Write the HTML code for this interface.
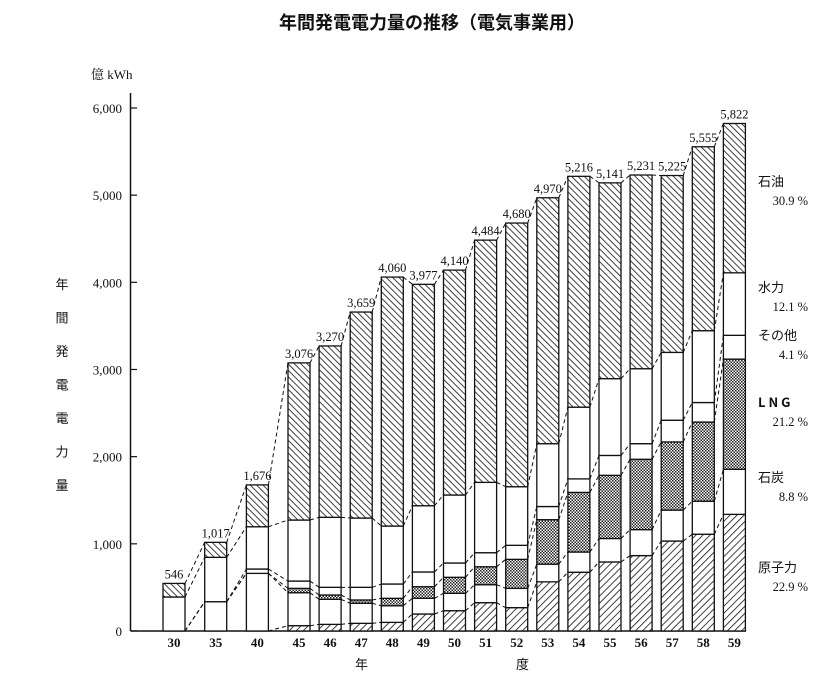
<!DOCTYPE html>
<html><head><meta charset="utf-8">
<style>
html,body{margin:0;padding:0;background:#fff;}
svg{display:block;font-family:"Liberation Serif","Noto Serif CJK SC",serif;}
.t{fill:#111;}
</style></head>
<body>
<svg id="c" width="835" height="697" viewBox="0 0 835 697" xmlns="http://www.w3.org/2000/svg">
<defs>
<pattern id="pOil" width="4.5" height="4.5" patternUnits="userSpaceOnUse" patternTransform="rotate(-45)">
<rect width="4.5" height="4.5" fill="#fff"/><line x1="0" y1="0" x2="0" y2="4.5" stroke="#111" stroke-width="1.6"/></pattern>
<pattern id="pNuc" width="5" height="5" patternUnits="userSpaceOnUse" patternTransform="rotate(45)">
<rect width="5" height="5" fill="#fff"/><line x1="0" y1="0" x2="0" y2="5" stroke="#111" stroke-width="1.6"/></pattern>
<pattern id="pLng" width="3" height="3" patternUnits="userSpaceOnUse">
<rect width="3" height="3" fill="#fff"/><rect width="1.5" height="1.5" fill="#222"/><rect x="1.5" y="1.5" width="1.5" height="1.5" fill="#222"/></pattern>
</defs>
<text x="432" y="29" text-anchor="middle" font-size="18" font-weight="bold" font-family="'Noto Sans CJK JP',sans-serif" class="t">年間発電電力量の推移（電気事業用）</text>
<text x="91" y="79" font-size="13" class="t">億 kWh</text>
<g id="ylab" font-size="13" font-family="'Noto Sans CJK JP',sans-serif"></g>
<g id="axes"></g>
<g id="lines"></g>
<g id="bars"></g>
<g id="labels"></g>
<g id="legend" font-family="'Noto Sans CJK JP',sans-serif"></g>
<text x="355" y="669" font-size="13" font-family="'Noto Sans CJK JP',sans-serif" class="t">年</text>
<text x="516" y="669" font-size="13" font-family="'Noto Sans CJK JP',sans-serif" class="t">度</text>
</svg>
<script>
const categories = ["30","35","40","45","46","47","48","49","50","51","52","53","54","55","56","57","58","59"];
const totals = [546,1017,1676,3076,3270,3659,4060,3977,4140,4484,4680,4970,5216,5141,5231,5225,5555,5822];
const nuclear = [0,0,0,61,76,88,99,195,233,325,268,564,674,792,865,1032,1110,1338];
const coal = [0,336,661,378,287,230,191,180,199,206,221,203,232,269,298,355,379,517];
const lng = [0,0,0,50,50,38,85,133,184,206,333,510,684,725,807,782,908,1264];
const other = [0,0,50,84,88,145,164,169,164,161,161,151,155,228,179,249,224,273];
const hydro = [390,509,485,700,803,795,665,760,780,807,672,721,823,881,860,778,824,717];
const yTicks = [0,1000,2000,3000,4000,5000,6000];
const yTickLabels = ["0","1,000","2,000","3,000","4,000","5,000","6,000"];
const legendNames = ["石油","水力","その他","L N G","石炭","原子力"];
const legendPcts = ["30.9 %","12.1 %","4.1 %","21.2 %","8.8 %","22.9 %"];

const NS="http://www.w3.org/2000/svg";
function el(tag,attrs,parent,txt){const e=document.createElementNS(NS,tag);for(const k in attrs)e.setAttribute(k,attrs[k]);if(txt!==undefined)e.textContent=txt;parent.appendChild(e);return e;}
const y=v=>631-v*0.08717;
const xc=i=>i<3?174+41.7*i:299+31.1*(i-3);
const BW=22;
const axes=document.getElementById('axes');
const a1=el('line',{x1:130.5,y1:93,x2:130.5,y2:631,stroke:'#111','stroke-width':1.5},axes);

const a2=el('line',{x1:130.5,y1:631,x2:746,y2:631,stroke:'#111','stroke-width':1.5},axes);

yTicks.forEach((v,i)=>{
  const t=el('line',{x1:130.5,y1:y(v),x2:137,y2:y(v),stroke:'#111','stroke-width':1.2},axes);
  
  const l=el('text',{x:122,y:y(v)+5,'text-anchor':'end','font-size':13,class:'t'},axes,yTickLabels[i]);
  
});
const ylab=document.getElementById('ylab');
"年間発電電力量".split('').forEach((ch,i)=>{
  const t=el('text',{x:62,y:289+i*33.5,'text-anchor':'middle',class:'t'},ylab,ch);
  
});
const series=[[nuclear,'url(#pNuc)','nuclear'],[coal,'#fff','coal'],[lng,'url(#pLng)','lng'],[other,'#fff','other'],[hydro,'#fff','hydro']];
const bars=document.getElementById('bars'),labels=document.getElementById('labels'),lines=document.getElementById('lines');
const cums=categories.map((c,i)=>{let s=0;const arr=[];series.forEach(se=>{s+=se[0][i];arr.push(s);});arr.push(totals[i]);return arr;});
categories.forEach((c,i)=>{
  const x0=xc(i)-BW/2;let base=0;
  series.forEach(se=>{
    const v=se[0][i];if(v<=0)return;
    const r=el('rect',{x:x0,y:y(base+v),width:BW,height:y(base)-y(base+v),fill:se[1],stroke:'#111','stroke-width':1.3},bars);
    
    base+=v;
  });
  const o=el('rect',{x:x0,y:y(totals[i]),width:BW,height:y(base)-y(totals[i]),fill:'url(#pOil)',stroke:'#111','stroke-width':1.3},bars);
  
  const tl=el('text',{x:xc(i),y:y(totals[i])-5,'text-anchor':'middle','font-size':12.5,class:'t'},labels,totals[i].toLocaleString('en-US'));
  
  const xl=el('text',{x:xc(i),y:647,'text-anchor':'middle','font-size':13,'font-weight':'bold',class:'t'},labels,c);
  
  if(i<categories.length-1){
    cums[i].forEach((v,k)=>{
      const w=cums[i+1][k];
      const ln=el('line',{x1:x0+BW,y1:y(v),x2:xc(i+1)-BW/2,y2:y(w),stroke:'#111','stroke-width':1,'stroke-dasharray':'4,3'},lines);
      
    });
  }
});
const lg=document.getElementById('legend');
const ly=[186,292,340,407,482,572];
legendNames.forEach((n,i)=>{
  const a=el('text',{x:758,y:ly[i],'font-size':13,class:'t','font-weight':i==3?'bold':'normal'},lg,n);
  
  const b=el('text',{x:808,y:ly[i]+19,'text-anchor':'end','font-size':12.5,class:'t','font-family':'Liberation Serif,serif'},lg,legendPcts[i]);
  
});
</script>
</body></html>
